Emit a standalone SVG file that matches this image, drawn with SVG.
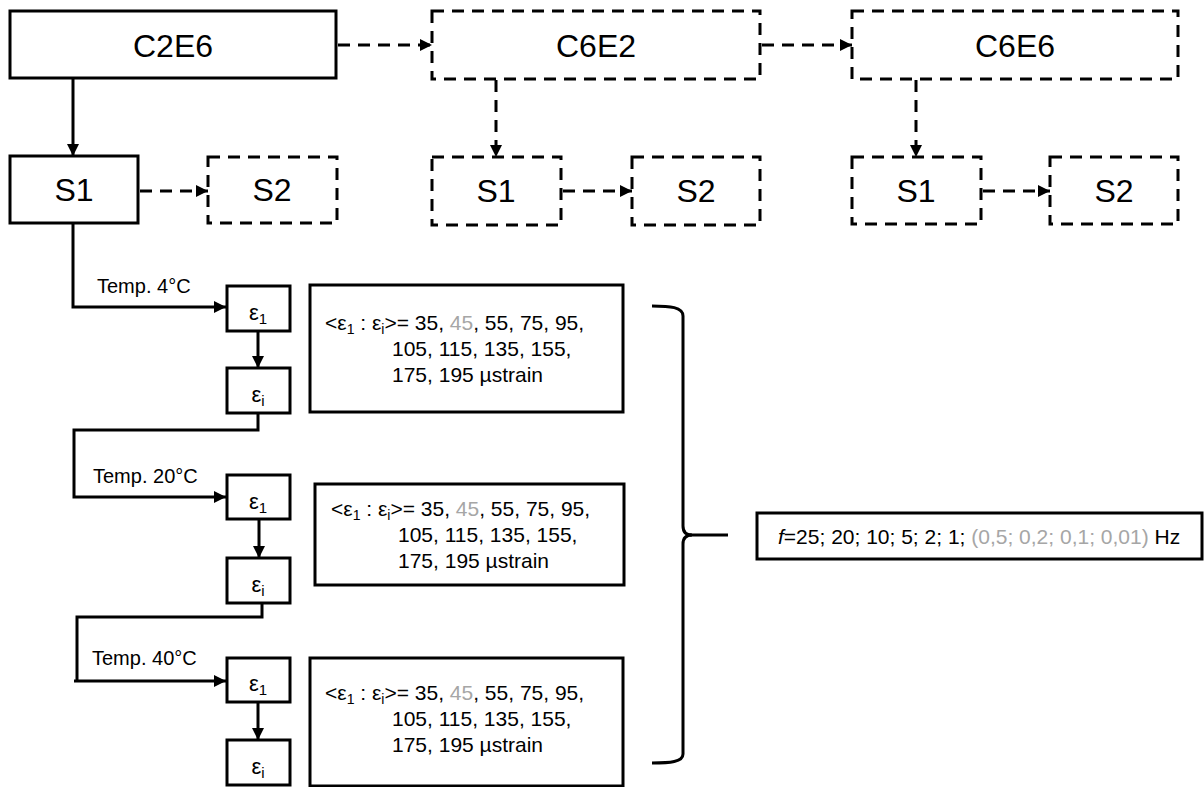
<svg xmlns="http://www.w3.org/2000/svg" width="1204" height="787" viewBox="0 0 1204 787">
<style>
  .box{fill:#fff;stroke:#000;stroke-width:3}
  .dbox{fill:#fff;stroke:#000;stroke-width:3;stroke-dasharray:12 8}
  .ln{fill:none;stroke:#000;stroke-width:3}
  .dln{fill:none;stroke:#000;stroke-width:3;stroke-dasharray:12 8}
  text{font-family:"Liberation Sans",Arial,sans-serif;fill:#000}
  .big{font-size:32px;text-anchor:middle}
  .eps{font-size:22px;text-anchor:middle}
  .tmp{font-size:20px}
  .val{font-size:21px}
  .gray{fill:#a6a6a6}
</style>
<defs>
  <marker id="ah" markerUnits="userSpaceOnUse" markerWidth="14" markerHeight="12" refX="12" refY="6" orient="auto">
    <path d="M0,0 L12,6 L0,12 Z" fill="#000"/>
  </marker>
</defs>

<g id="connectors">
  <line class="dln" x1="338" y1="45" x2="432" y2="45" marker-end="url(#ah)"/>
  <line class="dln" x1="762" y1="45" x2="852" y2="45" marker-end="url(#ah)"/>
  <line class="ln" x1="73" y1="78" x2="73" y2="156" marker-end="url(#ah)"/>
  <line class="dln" x1="496" y1="80" x2="496" y2="157" marker-end="url(#ah)"/>
  <line class="dln" x1="916" y1="80" x2="916" y2="157" marker-end="url(#ah)"/>
  <line class="dln" x1="140" y1="191" x2="208" y2="191" marker-end="url(#ah)"/>
  <line class="dln" x1="563" y1="191" x2="632" y2="191" marker-end="url(#ah)"/>
  <line class="dln" x1="983" y1="191" x2="1050" y2="191" marker-end="url(#ah)"/>
  <polyline class="ln" points="73,223 73,307 226,307" marker-end="url(#ah)"/>
  <line class="ln" x1="258" y1="331" x2="258" y2="368" marker-end="url(#ah)"/>
  <polyline class="ln" points="258,413 258,430 74,430 74,497 226,497" marker-end="url(#ah)"/>
  <line class="ln" x1="259" y1="519" x2="259" y2="558" marker-end="url(#ah)"/>
  <polyline class="ln" points="262,603 262,617 77,617 77,681" />
  <line class="ln" x1="74" y1="681" x2="226" y2="681" marker-end="url(#ah)"/>
  <line class="ln" x1="258" y1="702" x2="258" y2="740" marker-end="url(#ah)"/>
  <path class="ln" d="M652,306 C670,306 683,307 683,316 L683,526 C683,532 686,535 692,535 C686,535 683,538 683,544 L683,754 C683,762 670,763 652,763"/>
  <line class="ln" x1="690" y1="535" x2="728" y2="535"/>
</g>

<g id="C2E6"><rect class="box" x="10" y="11" width="326" height="67"/><text class="big" x="173" y="57">C2E6</text></g>
<g id="C6E2"><rect class="dbox" x="432" y="11" width="328" height="68"/><text class="big" x="596" y="57">C6E2</text></g>
<g id="C6E6"><rect class="dbox" x="852" y="11" width="326" height="68"/><text class="big" x="1015" y="57">C6E6</text></g>

<g id="S1a"><rect class="box" x="10" y="156" width="128" height="67"/><text class="big" x="74" y="201">S1</text></g>
<g id="S2a"><rect class="dbox" x="208" y="157" width="129" height="66"/><text class="big" x="272" y="201">S2</text></g>
<g id="S1b"><rect class="dbox" x="432" y="157" width="129" height="68"/><text class="big" x="496" y="202">S1</text></g>
<g id="S2b"><rect class="dbox" x="632" y="157" width="128" height="68"/><text class="big" x="696" y="202">S2</text></g>
<g id="S1c"><rect class="dbox" x="852" y="157" width="129" height="67"/><text class="big" x="916" y="202">S1</text></g>
<g id="S2c"><rect class="dbox" x="1050" y="157" width="128" height="67"/><text class="big" x="1114" y="202">S2</text></g>

<g id="labels">
  <text class="tmp" x="97" y="293">Temp. 4°C</text>
  <text class="tmp" x="93" y="483">Temp. 20°C</text>
  <text class="tmp" x="92" y="665">Temp. 40°C</text>
</g>

<g id="e1_4"><rect class="box" x="227" y="286" width="63" height="45"/><text class="eps" x="258" y="320">ε<tspan font-size="15" dy="4">1</tspan></text></g>
<g id="ei_4"><rect class="box" x="227" y="368" width="63" height="45"/><text class="eps" x="258" y="402">ε<tspan font-size="15" dy="4">i</tspan></text></g>
<g id="e1_20"><rect class="box" x="227" y="475" width="63" height="44"/><text class="eps" x="258" y="509">ε<tspan font-size="15" dy="4">1</tspan></text></g>
<g id="ei_20"><rect class="box" x="227" y="558" width="63" height="45"/><text class="eps" x="258" y="592">ε<tspan font-size="15" dy="4">i</tspan></text></g>
<g id="e1_40"><rect class="box" x="227" y="658" width="63" height="44"/><text class="eps" x="258" y="691">ε<tspan font-size="15" dy="4">1</tspan></text></g>
<g id="ei_40"><rect class="box" x="227" y="740" width="63" height="45"/><text class="eps" x="258" y="774">ε<tspan font-size="15" dy="4">i</tspan></text></g>

<g id="vals_4">
  <rect class="box" x="310" y="285" width="313" height="127"/>
  <text class="val" x="325" y="330">&lt;ε<tspan font-size="14" dy="4">1</tspan><tspan dy="-4"> : ε</tspan><tspan font-size="14" dy="4">i</tspan><tspan dy="-4">&gt;= 35, </tspan><tspan class="gray">45</tspan>, 55, 75, 95,</text>
  <text class="val" x="392" y="356">105, 115, 135, 155,</text>
  <text class="val" x="392" y="382">175, 195 µstrain</text>
</g>
<g id="vals_20">
  <rect class="box" x="315" y="484" width="309" height="101"/>
  <text class="val" x="331" y="516">&lt;ε<tspan font-size="14" dy="4">1</tspan><tspan dy="-4"> : ε</tspan><tspan font-size="14" dy="4">i</tspan><tspan dy="-4">&gt;= 35, </tspan><tspan class="gray">45</tspan>, 55, 75, 95,</text>
  <text class="val" x="398" y="542">105, 115, 135, 155,</text>
  <text class="val" x="398" y="568">175, 195 µstrain</text>
</g>
<g id="vals_40">
  <rect class="box" x="310" y="658" width="313" height="128"/>
  <text class="val" x="325" y="700">&lt;ε<tspan font-size="14" dy="4">1</tspan><tspan dy="-4"> : ε</tspan><tspan font-size="14" dy="4">i</tspan><tspan dy="-4">&gt;= 35, </tspan><tspan class="gray">45</tspan>, 55, 75, 95,</text>
  <text class="val" x="392" y="726">105, 115, 135, 155,</text>
  <text class="val" x="392" y="752">175, 195 µstrain</text>
</g>

<g id="freq">
  <rect class="box" x="757" y="513" width="445" height="46"/>
  <text class="val" x="778" y="544"><tspan font-style="italic">f</tspan>=25; 20; 10; 5; 2; 1; <tspan class="gray">(0,5; 0,2; 0,1; 0,01)</tspan> Hz</text>
</g>
</svg>
